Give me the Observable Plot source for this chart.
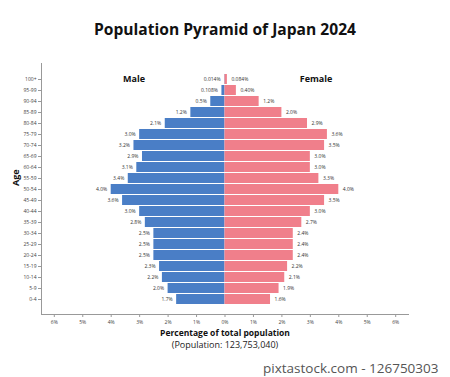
<!DOCTYPE html>
<html>
<head>
<meta charset="utf-8">
<script src="https://cdn.jsdelivr.net/npm/d3@7"></script>
<script src="https://cdn.jsdelivr.net/npm/@observablehq/plot@0.6"></script>
<style>
  html, body { margin: 0; padding: 0; background: #fff; }
  svg { display: block; }
</style>
</head>
<body>
<div id="chart"></div>
<script>
const ages = ["100+","95-99","90-94","85-89","80-84","75-79","70-74","65-69","60-64","55-59","50-54","45-49","40-44","35-39","30-34","25-29","20-24","15-19","10-14","5-9","0-4"];
const male = [0.014,0.108,0.5,1.2,2.1,3.0,3.2,2.9,3.1,3.4,4.0,3.6,3.0,2.8,2.5,2.5,2.5,2.3,2.2,2.0,1.7];
const female = [0.084,0.40,1.2,2.0,2.9,3.6,3.5,3.0,3.0,3.3,4.0,3.5,3.0,2.7,2.4,2.4,2.4,2.2,2.1,1.9,1.6];
const maleLabels = ["0.014%","0.108%","0.5%","1.2%","2.1%","3.0%","3.2%","2.9%","3.1%","3.4%","4.0%","3.6%","3.0%","2.8%","2.5%","2.5%","2.5%","2.3%","2.2%","2.0%","1.7%"];
const femaleLabels = ["0.084%","0.40%","1.2%","2.0%","2.9%","3.6%","3.5%","3.0%","3.0%","3.3%","4.0%","3.5%","3.0%","2.7%","2.4%","2.4%","2.4%","2.2%","2.1%","1.9%","1.6%"];
const xTicks = [-6,-5,-4,-3,-2,-1,0,1,2,3,4,5,6];
const sexLabels = [{text: "Male", x: -3.2, age: "100+"}, {text: "Female", x: 3.2, age: "100+"}];

const blue = "#4a7ec6";
const pink = "#f07f8b";

const rows = [];
ages.forEach((a, i) => {
  rows.push({age: a, sex: "Male", value: -male[i], label: maleLabels[i]});
  rows.push({age: a, sex: "Female", value: female[i], label: femaleLabels[i]});
});
const maleRows = rows.filter(d => d.sex === "Male");
const femaleRows = rows.filter(d => d.sex === "Female");

const chart = Plot.plot({
  width: 450,
  height: 377,
  marginTop: 63,
  marginBottom: 63,
  marginLeft: 41,
  marginRight: 42,
  style: {fontFamily: "'Open Sans', sans-serif", background: "#fff", color: "#222"},
  x: {domain: [-6.45, 6.45]},
  y: {domain: ages, padding: 0.1},
  color: {domain: ["Male", "Female"], range: [blue, pink]},
  marks: [
    Plot.barX(rows, {x: "value", y: "age", fill: "sex"}),
    Plot.text(maleRows, {x: "value", y: "age", text: "label", textAnchor: "end", dx: -4, fontSize: 5, fill: "#333"}),
    Plot.text(femaleRows, {x: "value", y: "age", text: "label", textAnchor: "start", dx: 4, fontSize: 5, fill: "#333"}),
    Plot.axisX({ticks: xTicks, tickFormat: d => Math.abs(d) + "%", tickSize: 3, tickPadding: 3, fontSize: 5, label: null, stroke: "#999", fill: "#444"}),
    Plot.axisY({tickSize: 3, tickPadding: 2, fontSize: 5, label: null, stroke: "#999", fill: "#444"}),
    Plot.frame({anchor: "bottom", stroke: "#999"}),
    Plot.frame({anchor: "left", stroke: "#999"}),
    Plot.text(sexLabels, {x: "x", y: "age", text: "text", fontSize: 9, fontWeight: "bold", fill: "#111"}),
    Plot.text(["Population Pyramid of Japan 2024"], {frameAnchor: "top", dy: -40, text: d => d, fontSize: 15.6, fontWeight: "bold", fill: "#111"}),
    Plot.text(["Age"], {frameAnchor: "left", dx: -25, dy: -3, rotate: -90, text: d => d, fontSize: 9, fontWeight: "bold", fill: "#111"}),
    Plot.text(["Percentage of total population"], {frameAnchor: "bottom", dy: 21, text: d => d, fontSize: 8.5, fontWeight: "bold", fill: "#111"}),
    Plot.text(["(Population: 123,753,040)"], {frameAnchor: "bottom", dy: 33, text: d => d, fontSize: 9, fill: "#222"}),
    Plot.text(["pixtastock.com - 126750303"], {frameAnchor: "bottom-right", dx: 30, dy: 58, textAnchor: "end", text: d => d, fontSize: 13.5, fill: "#555"})
  ]
});
document.getElementById("chart").appendChild(chart);
</script>
</body>
</html>
